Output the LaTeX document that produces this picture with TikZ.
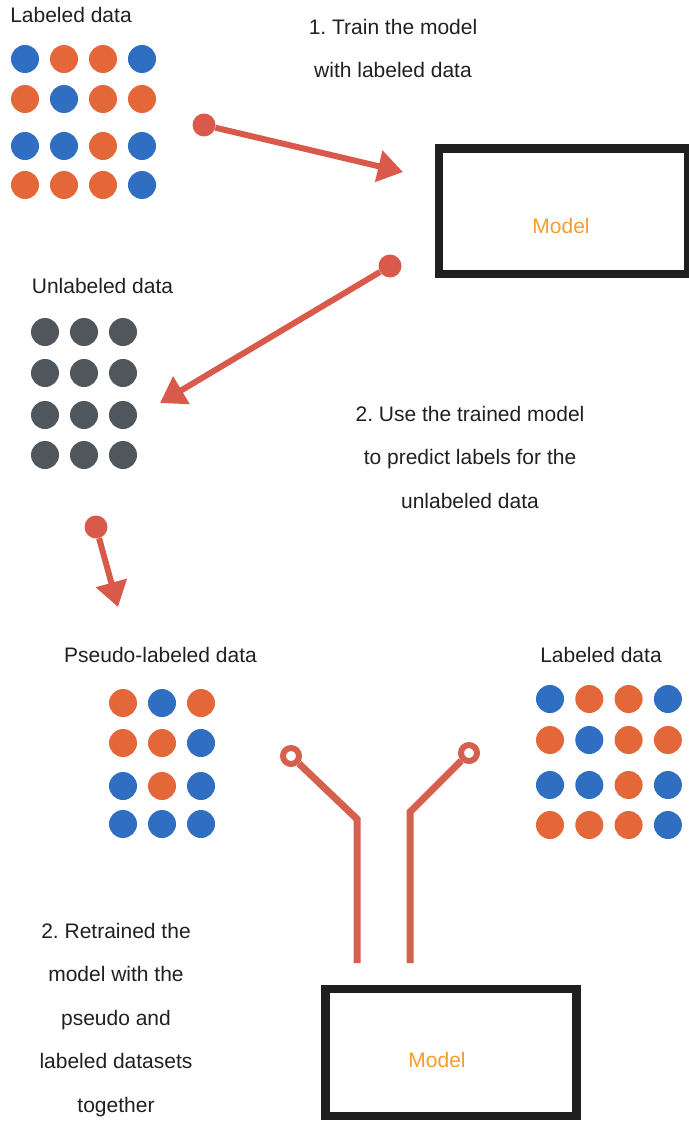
\documentclass[tikz,border=0pt]{standalone}
\usepackage{fontspec}
\setmainfont{Liberation Sans}
\usetikzlibrary{arrows.meta, positioning}
\definecolor{dotblue}{RGB}{47,110,192}
\definecolor{dotorange}{RGB}{228,103,58}
\definecolor{dotgray}{RGB}{80,87,92}
\definecolor{flowred}{RGB}{217,89,74}
\definecolor{wirered}{RGB}{214,96,78}
\definecolor{modelorange}{RGB}{244,157,46}
\definecolor{textgray}{RGB}{35,31,32}
\frenchspacing

\begin{document}
\begin{tikzpicture}[x=1pt, y=-1pt,
  txt/.style={font=\fontsize{21}{43.5}\selectfont, text=textgray, inner sep=0pt, align=center, anchor=base},
  flow/.style={draw=flowred, line width=6pt, -{Triangle[length=25pt,width=31pt]}},
  startdot/.style={circle, fill=flowred, minimum size=23pt, inner sep=0pt},
  ring/.style={circle, draw=wirered, line width=6pt, fill=white, minimum size=16pt, inner sep=0pt},
  wire/.style={draw=wirered, line width=7pt},
  modelbox/.style={draw=black!88, line width=8.5pt, inner sep=0pt},
  modeltxt/.style={font=\fontsize{21}{24}\selectfont, text=modelorange, inner sep=0pt, anchor=base}
]
\useasboundingbox (0,0) rectangle (688,1121);

% labeled data, top
\node[txt] (lab1) at (71,23) {Labeled data};
\foreach \y/\row in {59/{dotblue,dotorange,dotorange,dotblue},
                     99/{dotorange,dotblue,dotorange,dotorange},
                     146/{dotblue,dotblue,dotorange,dotblue},
                     185/{dotorange,dotorange,dotorange,dotblue}}
  \foreach \c [count=\k from 0] in \row
    \fill[\c] (25+39*\k,\y) circle[radius=14pt];

% step 1 (base = last line)
\node[txt] (step1) at (393,78) {1. Train the model\\with labeled data};
\node[startdot] (s1) at (204,125) {};
\coordinate (e1) at (403,172);
\draw[flow] (s1) -- (e1);

% first model
\node[modelbox, minimum width=249pt, minimum height=125.5pt] (model1) at (563.5,211.25) {};
\node[modeltxt] (mtxt1) at (561,233) {Model};

% unlabeled data
\node[txt] (unlab) at (102.5,293) {Unlabeled data};
\foreach \y in {332,373,415,455}
  \foreach \k in {0,1,2}
    \fill[dotgray] (45+39*\k,\y) circle[radius=14pt];

% step 2
\node[startdot] (s2) at (390,266) {};
\coordinate (e2) at (160,403);
\draw[flow] (s2) -- (e2);
\node[txt] (step2) at (470,508) {2. Use the trained model\\to predict labels for the\\unlabeled data};

\node[startdot] (s3) at (96,527) {};
\coordinate (e3) at (118,607);
\draw[flow] (s3) -- (e3);

% pseudo-labeled data
\node[txt] (pseudo) at (160.5,662) {Pseudo-labeled data};
\foreach \y/\row in {703/{dotorange,dotblue,dotorange},
                     743/{dotorange,dotorange,dotblue},
                     786/{dotblue,dotorange,dotblue},
                     824/{dotblue,dotblue,dotblue}}
  \foreach \c [count=\k from 0] in \row
    \fill[\c] (123+39*\k,\y) circle[radius=14pt];

% labeled data, right
\node[txt] (lab2) at (601,662) {Labeled data};
\foreach \y/\row in {699/{dotblue,dotorange,dotorange,dotblue},
                     740/{dotorange,dotblue,dotorange,dotorange},
                     785/{dotblue,dotblue,dotorange,dotblue},
                     825/{dotorange,dotorange,dotorange,dotblue}}
  \foreach \c [count=\k from 0] in \row
    \fill[\c] (550+39.3*\k,\y) circle[radius=14pt];

% inputs to the retrained model
\node[ring] (r1) at (291,756) {};
\node[ring] (r2) at (469,753) {};
\coordinate (k1) at (357,819);
\coordinate (f1) at (357,963);
\coordinate (k2) at (410,812);
\coordinate (f2) at (410,963);
\draw[wire] (r1) -- (k1) -- (f1);
\draw[wire] (r2) -- (k2) -- (f2);

% step 3
\node[txt] (step3) at (116,1112) {2. Retrained the\\model with the\\pseudo and\\labeled datasets\\together};
\node[modelbox, minimum width=251pt, minimum height=127pt] (model2) at (451,1052.5) {};
\node[modeltxt] (mtxt2) at (437,1067) {Model};
\end{tikzpicture}
\end{document}
